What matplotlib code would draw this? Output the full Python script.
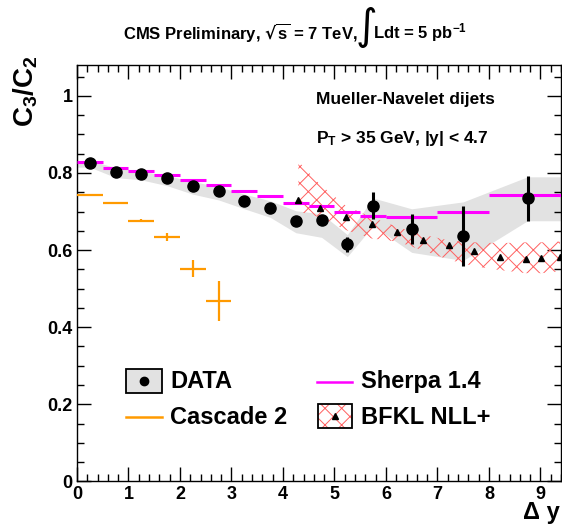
import matplotlib
matplotlib.use("Agg")
import matplotlib.pyplot as plt
from matplotlib.ticker import MultipleLocator, FixedLocator
from matplotlib.patches import Rectangle
from matplotlib.lines import Line2D

plt.rcParams['font.family'] = ['Liberation Sans', 'DejaVu Sans']
plt.rcParams['font.weight'] = 'bold'
plt.rcParams['mathtext.default'] = 'regular'
plt.rcParams['hatch.linewidth'] = 0.7

# ---- data ----
data_x = [0.25, 0.75, 1.25, 1.75, 2.25, 2.75, 3.25, 3.75, 4.25, 4.75, 5.25, 5.75, 6.5, 7.5, 8.75]
data_y = [0.825, 0.803, 0.797, 0.787, 0.765, 0.752, 0.728, 0.708, 0.675, 0.677, 0.615, 0.715, 0.654, 0.636, 0.734]
data_err = [0.004, 0.004, 0.004, 0.004, 0.005, 0.005, 0.006, 0.007, 0.008, 0.012, 0.02, 0.035, 0.039, 0.077, 0.058]

band_x = [0.0, 0.25, 0.75, 1.25, 1.75, 2.25, 2.75, 3.25, 3.75, 4.25, 4.75, 5.25, 5.75, 6.5, 7.5, 8.75, 9.4]
band_hi = [0.832, 0.832, 0.814, 0.804, 0.793, 0.778, 0.764, 0.745, 0.728, 0.702, 0.694, 0.640, 0.735, 0.707, 0.725, 0.790, 0.790]
band_lo = [0.815, 0.815, 0.788, 0.782, 0.767, 0.745, 0.730, 0.707, 0.685, 0.645, 0.633, 0.583, 0.663, 0.594, 0.573, 0.676, 0.676]

sherpa_lo = [0.0, 0.5, 1.0, 1.5, 2.0, 2.5, 3.0, 3.5, 4.0, 4.5, 5.0, 5.5, 6.0, 7.0, 8.0]
sherpa_hi = [0.5, 1.0, 1.5, 2.0, 2.5, 3.0, 3.5, 4.0, 4.5, 5.0, 5.5, 6.0, 7.0, 8.0, 9.4]
sherpa_y = [0.829, 0.814, 0.806, 0.795, 0.782, 0.769, 0.752, 0.739, 0.722, 0.713, 0.699, 0.689, 0.686, 0.700, 0.743]

cascade_x = [0.25, 0.75, 1.25, 1.75, 2.25, 2.75]
cascade_y = [0.743, 0.721, 0.676, 0.633, 0.551, 0.469]
cascade_err = [0.0, 0.0, 0.004, 0.01, 0.022, 0.052]

bfkl_x = [4.3, 4.72, 5.22, 5.72, 6.22, 6.72, 7.22, 7.72, 8.22, 8.72, 9.02, 9.38]
bfkl_y = [0.730, 0.709, 0.687, 0.668, 0.648, 0.627, 0.612, 0.597, 0.583, 0.577, 0.579, 0.582]
bfkl_hi = [0.830, 0.770, 0.715, 0.685, 0.660, 0.640, 0.625, 0.620, 0.618, 0.620, 0.620, 0.622]
bfkl_lo = [0.700, 0.685, 0.652, 0.630, 0.622, 0.599, 0.575, 0.558, 0.548, 0.540, 0.540, 0.545]

x_ticks = [0, 1, 2, 3, 4, 5, 6, 7, 8, 9]
y_ticks = [0, 0.2, 0.4, 0.6, 0.8, 1.0]
y_ticklabels = ['0', '0.2', '0.4', '0.6', '0.8', '1']

ORANGE = '#ff9a00'
MAGENTA = '#ff00ff'
HATCH = '#ff6060'
GRAY = '#e2e2e2'

fig = plt.figure(figsize=(5.62, 5.25), dpi=100)
ax = fig.add_axes([77/562, (525-481.4)/525, 484/562, 416.4/525])

ax.fill_between(band_x, band_lo, band_hi, color=GRAY, lw=0, zorder=1)
ax.fill_between(bfkl_x, bfkl_lo, bfkl_hi, facecolor='none', edgecolor=HATCH,
                hatch='xx', lw=0, zorder=2)
ax.hlines(sherpa_y, sherpa_lo, sherpa_hi, colors=MAGENTA, lw=2.2, zorder=3)
ax.errorbar(cascade_x, cascade_y, xerr=0.25, yerr=cascade_err, fmt='none',
            ecolor=ORANGE, elinewidth=1.6, capsize=0, zorder=3)
ax.plot(bfkl_x, bfkl_y, '^', color='black', ms=4.5, ls='none', zorder=4)
ax.errorbar(data_x, data_y, yerr=data_err, fmt='o', color='black', ms=8,
            elinewidth=2.2, capsize=0, zorder=5)

ax.set_xlim(0, 9.4)
ax.set_ylim(0, 1.08)
ax.xaxis.set_major_locator(FixedLocator(x_ticks))
ax.xaxis.set_minor_locator(MultipleLocator(0.2))
ax.yaxis.set_major_locator(FixedLocator(y_ticks))
ax.set_yticklabels(y_ticklabels)
ax.yaxis.set_minor_locator(MultipleLocator(0.05))
ax.tick_params(which='both', direction='in', top=True, right=True, width=1,
               labelsize=13, pad=3)
ax.tick_params(which='major', length=10)
ax.tick_params(which='minor', length=5)
for lab in ax.get_xticklabels() + ax.get_yticklabels():
    lab.set_fontweight('bold')
for s in ax.spines.values():
    s.set_linewidth(1)

# axis titles
ax.text(-0.105, 1.024, r'C$_3$/C$_2$', transform=ax.transAxes, rotation=90,
        ha='center', va='top', fontsize=20, fontweight='bold')
ax.text(0.998, -0.1023, 'Δ y', transform=ax.transAxes, ha='right', va='bottom',
        fontsize=17, fontweight='bold')

# annotations
ax.text(0.493, 0.916, 'Mueller-Navelet dijets', transform=ax.transAxes,
        ha='left', va='center', fontsize=12.5, fontweight='bold')
ax.text(0.493, 0.824, r'P$_T$ > 35 GeV, |y| < 4.7', transform=ax.transAxes,
        ha='left', va='center', fontsize=12.5, fontweight='bold')

# title
fig.text(358/562, 1-33/525, r'CMS Preliminary, $\sqrt{s}$ = 7 TeV,', ha='right',
         va='center', fontsize=12, fontweight='bold')
fig.text(366/562, 1-27/525, '∫', ha='center', va='center', fontsize=30,
         family='DejaVu Sans', fontweight='normal')
fig.text(373/562, 1-33/525, r'Ldt = 5 pb$^{-1}$', ha='left', va='center',
         fontsize=12, fontweight='bold')

# legend (manual)
T = ax.transAxes
ax.add_patch(Rectangle((0.101, 0.212), 0.074, 0.058, transform=T, facecolor=GRAY,
                       edgecolor='black', lw=1.3, zorder=6))
ax.add_line(Line2D([0.138], [0.241], transform=T, marker='o', color='black', ms=6, zorder=7))
ax.text(0.193, 0.239, 'DATA', transform=T, ha='left', va='center', fontsize=17, fontweight='bold')

ax.add_line(Line2D([0.101, 0.175], [0.154, 0.154], transform=T, color=ORANGE, lw=1.8, zorder=6))
ax.text(0.193, 0.154, 'Cascade 2', transform=T, ha='left', va='center', fontsize=17, fontweight='bold')

ax.add_line(Line2D([0.496, 0.569], [0.239, 0.239], transform=T, color=MAGENTA, lw=1.8, zorder=6))
ax.text(0.586, 0.239, 'Sherpa 1.4', transform=T, ha='left', va='center', fontsize=17, fontweight='bold')

ax.add_patch(Rectangle((0.497, 0.128), 0.072, 0.058, transform=T, facecolor='white',
                       edgecolor=HATCH, hatch='xx', lw=0, zorder=6))
ax.add_patch(Rectangle((0.497, 0.128), 0.072, 0.058, transform=T, facecolor='none',
                       edgecolor='black', lw=1.3, zorder=7))
ax.add_line(Line2D([0.533], [0.157], transform=T, marker='^', color='black', ms=4.5, zorder=8))
ax.text(0.586, 0.154, 'BFKL NLL+', transform=T, ha='left', va='center', fontsize=17, fontweight='bold')

fig.savefig('out.png', dpi=100)
